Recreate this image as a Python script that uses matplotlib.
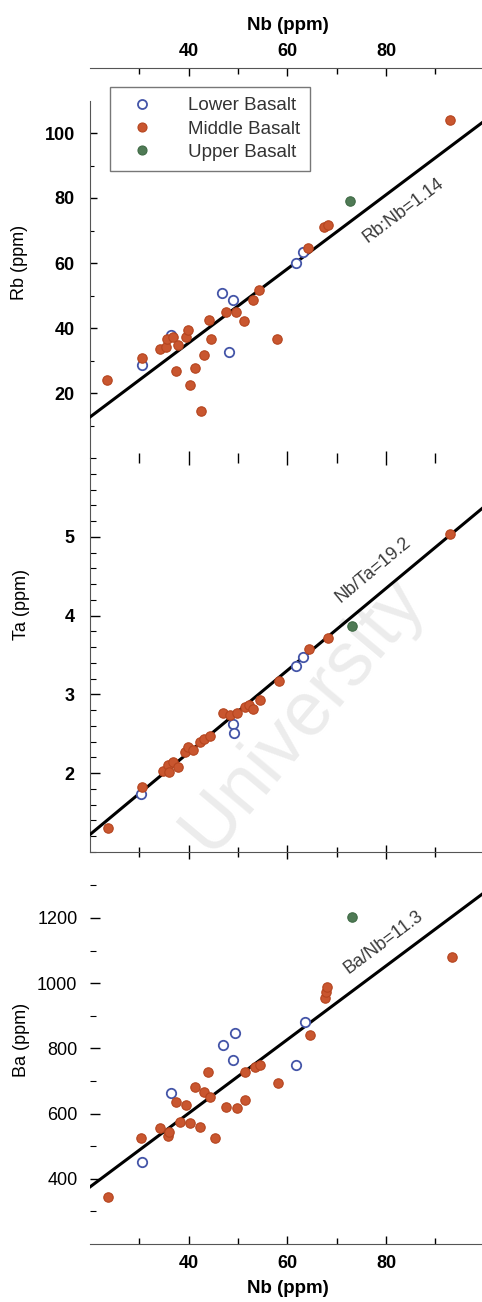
import matplotlib
matplotlib.use("Agg")
import matplotlib.pyplot as plt
from matplotlib.lines import Line2D
from matplotlib.ticker import FixedLocator, MultipleLocator
import numpy as np

plt.rcParams["font.family"] = ["Liberation Sans", "DejaVu Sans"]

# ---- Rb vs Nb ----
rb_nb_lower = [30.5, 36.5, 46.8, 49.0, 48.2, 61.8, 63.2]
rb_lower = [28.6, 37.8, 50.7, 48.7, 32.7, 59.9, 63.5]
rb_nb_middle = [23.5, 30.6, 34.1, 35.5, 35.6, 36.8, 37.8, 39.5, 39.9, 37.5, 40.3,
                41.3, 43.1, 42.5, 44.2, 44.6, 47.6, 49.5, 51.3, 53.0, 54.2, 57.9,
                64.2, 67.4, 68.2, 93.0]
rb_middle = [24.0, 30.8, 33.5, 34.3, 36.5, 37.3, 34.8, 37.3, 39.4, 26.8, 22.5,
             27.6, 31.7, 14.4, 42.5, 36.7, 44.8, 44.8, 42.1, 48.6, 51.7, 36.5,
             64.5, 71.2, 71.8, 104.0]
rb_nb_upper = [72.7]
rb_upper = [79.0]

# ---- Ta vs Nb ----
ta_nb_lower = [30.4, 49.0, 49.2, 61.8, 63.2]
ta_lower = [1.73, 2.63, 2.51, 3.36, 3.47]
ta_nb_middle = [23.6, 30.6, 34.8, 35.8, 36.1, 36.8, 37.8, 39.2, 39.9, 40.9, 42.2,
                43.2, 44.3, 47.0, 48.3, 49.7, 51.4, 52.3, 53.0, 54.4, 58.3, 64.3,
                68.2, 93.0]
ta_middle = [1.30, 1.82, 2.03, 2.10, 2.02, 2.14, 2.08, 2.27, 2.33, 2.29, 2.40,
             2.44, 2.47, 2.76, 2.74, 2.76, 2.84, 2.87, 2.82, 2.93, 3.17, 3.57,
             3.71, 5.03]
ta_nb_upper = [73.0]
ta_upper = [3.87]

# ---- Ba vs Nb ----
ba_nb_lower = [30.5, 36.5, 47.0, 49.3, 49.0, 61.8, 63.5]
ba_lower = [450, 662, 810, 848, 765, 749, 882]
ba_nb_middle = [23.6, 30.4, 34.1, 35.8, 36.0, 37.5, 39.5, 38.2, 40.2, 42.2, 41.2,
                43.2, 44.3, 44.0, 45.3, 47.6, 49.7, 51.4, 51.4, 53.4, 54.4, 58.1,
                64.5, 67.6, 67.8, 68.1, 93.3]
ba_middle = [345, 524, 555, 530, 545, 637, 626, 575, 570, 560, 682,
             667, 652, 728, 524, 621, 616, 642, 728, 744, 750, 695,
             841, 955, 972, 988, 1079]
ba_nb_upper = [73.0]
ba_upper = [1204]

# reference ratio lines: slope from the ratio, offset of each fitted line
rb_ratio, rb_offset = 1.14, -10.2
ta_ratio, ta_offset = 19.2, 0.18
ba_ratio, ba_offset = 11.3, 149.0

group_labels = ["Lower Basalt", "Middle Basalt", "Upper Basalt"]

C_LOW = "#4455a8"
C_MID = "#c9562f"
C_UP = "#4f7a55"

W, H = 482, 1302
fig = plt.figure(figsize=(W / 100, H / 100), dpi=100)


def px_axes(left, top, right, bottom):
    return fig.add_axes([left / W, 1 - bottom / H, (right - left) / W, (bottom - top) / H])


def scatter_groups(ax, nl, yl, nm, ym, nu, yu):
    ax.scatter(nl, yl, s=46, facecolor="white", edgecolor=C_LOW, linewidth=1.3, zorder=4)
    ax.scatter(nm, ym, s=46, facecolor=C_MID, edgecolor="#b5451f", linewidth=0.8, zorder=5)
    ax.scatter(nu, yu, s=46, facecolor=C_UP, edgecolor="#3f6a45", linewidth=0.8, zorder=5)


def ratio_line(ax, slope, offset, label, lx, ly):
    xs = np.array([20.0, 100.0])
    ax.plot(xs, slope * xs + offset, color="black", lw=2.2, zorder=3)
    p = ax.transData.transform_point
    a = np.array(p((20, slope * 20 + offset)))
    b = np.array(p((100, slope * 100 + offset)))
    ang = np.degrees(np.arctan2(b[1] - a[1], b[0] - a[0]))
    ax.text(lx, ly, label, rotation=ang, rotation_mode="anchor", ha="center",
            va="center", fontsize=13, color="#3a3a3a", zorder=6)


# watermark behind the panels
fig.text(210 / W, 1 - 856 / H, "University", rotation=50, rotation_mode="anchor",
         ha="left", va="baseline", fontsize=55, color="#ececec", zorder=-5)

# ---------- Rb panel ----------
ax1 = px_axes(90, 100.5, 484.8, 458)
ax1.set_facecolor("none")
ax1.set_xlim(20, 100)
ax1.set_ylim(0, 110)
for s in ("right", "bottom"):
    ax1.spines[s].set_visible(False)
ax1.spines["top"].set_position(("outward", 23.4))
ax1.xaxis.tick_top()
ax1.xaxis.set_label_position("top")
ax1.xaxis.set_major_locator(FixedLocator([40, 60, 80]))
ax1.xaxis.set_minor_locator(FixedLocator([30, 50, 70, 90]))
ax1.tick_params(axis="x", which="major", direction="in", length=6, width=1, pad=6,
                labelsize=13)
ax1.tick_params(axis="x", which="minor", direction="in", length=4, width=1)
ax1.yaxis.set_major_locator(FixedLocator([20, 40, 60, 80, 100]))
ax1.yaxis.set_minor_locator(FixedLocator([10, 30, 50, 70, 90]))
ax1.tick_params(axis="y", which="major", direction="in", length=5, width=1, pad=11,
                labelsize=13)
ax1.tick_params(axis="y", which="minor", direction="in", length=3, width=0.8)
for t in ax1.get_xticklabels() + ax1.get_yticklabels():
    t.set_fontweight("bold")
ax1.set_xlabel("Nb (ppm)", fontsize=13.5, fontweight="bold", labelpad=9)
for s in ax1.spines.values():
    s.set_color("#555555")
scatter_groups(ax1, rb_nb_lower, rb_lower, rb_nb_middle, rb_middle, rb_nb_upper, rb_upper)
ratio_line(ax1, rb_ratio, rb_offset, "Rb:Nb=1.14", 83.4, 76.3)

handles = [
    Line2D([], [], ls="none", marker="o", ms=6.5, mfc="white", mec=C_LOW, mew=1.3),
    Line2D([], [], ls="none", marker="o", ms=6.5, mfc=C_MID, mec="#b5451f", mew=0.8),
    Line2D([], [], ls="none", marker="o", ms=6.5, mfc=C_UP, mec="#3f6a45", mew=0.8),
]
leg = ax1.legend(handles, group_labels, loc="upper left",
                 bbox_to_anchor=(110 / W, 1 - 87 / H), bbox_transform=fig.transFigure,
                 borderaxespad=0, frameon=True, fancybox=False, fontsize=13.5,
                 handlelength=2.3, handletextpad=1.3, borderpad=0.55, labelspacing=0.32)
leg.get_frame().set_edgecolor("#555555")
leg.get_frame().set_linewidth(1.0)
for t in leg.get_texts():
    t.set_color("#333333")

# ---------- Ta panel ----------
ax2 = px_axes(90, 458, 484.8, 852)
ax2.set_facecolor("none")
ax2.set_xlim(20, 100)
ax2.set_ylim(1, 6.0)
for s in ("right", "top"):
    ax2.spines[s].set_visible(False)
ax2.xaxis.set_major_locator(FixedLocator([40, 60, 80]))
ax2.xaxis.set_minor_locator(FixedLocator([30, 50, 70, 90]))
ax2.tick_params(axis="x", which="both", top=True, bottom=True, labelbottom=False,
                direction="inout")
ax2.tick_params(axis="x", which="major", length=10, width=1)
ax2.tick_params(axis="x", which="minor", length=7, width=1)
ax2.yaxis.set_major_locator(FixedLocator([2, 3, 4, 5]))
ax2.yaxis.set_minor_locator(MultipleLocator(0.2))
ax2.tick_params(axis="y", which="major", direction="in", length=7, width=1, pad=11,
                labelsize=13)
ax2.tick_params(axis="y", which="minor", direction="in", length=4, width=0.8)
for t in ax2.get_yticklabels():
    t.set_fontweight("bold")
for s in ax2.spines.values():
    s.set_color("#555555")
scatter_groups(ax2, ta_nb_lower, ta_lower, ta_nb_middle, ta_middle, ta_nb_upper, ta_upper)
ratio_line(ax2, 1.0 / ta_ratio, ta_offset, "Nb/Ta=19.2", 77.3, 4.58)

# ---------- Ba panel ----------
ax3 = px_axes(90, 869, 484.8, 1244)
ax3.set_facecolor("none")
ax3.set_xlim(20, 100)
ax3.set_ylim(200, 1350)
for s in ("right", "top", "left"):
    ax3.spines[s].set_visible(False)
ax3.xaxis.set_major_locator(FixedLocator([40, 60, 80]))
ax3.xaxis.set_minor_locator(FixedLocator([30, 50, 70, 90]))
ax3.tick_params(axis="x", which="major", direction="in", length=6, width=1, pad=8,
                labelsize=13)
ax3.tick_params(axis="x", which="minor", direction="in", length=4, width=1)
ax3.yaxis.set_major_locator(FixedLocator([400, 600, 800, 1000, 1200]))
ax3.yaxis.set_minor_locator(FixedLocator([300, 500, 700, 900, 1100, 1300]))
ax3.tick_params(axis="y", which="major", direction="in", length=7, width=1, pad=9,
                labelsize=13)
ax3.tick_params(axis="y", which="minor", direction="in", length=4, width=0.8)
for t in ax3.get_xticklabels():
    t.set_fontweight("bold")
ax3.set_xlabel("Nb (ppm)", fontsize=13.5, fontweight="bold", labelpad=6)
for s in ax3.spines.values():
    s.set_color("#555555")
scatter_groups(ax3, ba_nb_lower, ba_lower, ba_nb_middle, ba_middle, ba_nb_upper, ba_upper)
ratio_line(ax3, ba_ratio, ba_offset, "Ba/Nb=11.3", 79.4, 1126)

# y-axis titles
fig.text(20 / W, 1 - 262 / H, "Rb (ppm)", rotation=90, ha="center", va="center", fontsize=13)
fig.text(22 / W, 1 - 605 / H, "Ta (ppm)", rotation=90, ha="center", va="center", fontsize=13)
fig.text(22 / W, 1 - 1040 / H, "Ba (ppm)", rotation=90, ha="center", va="center", fontsize=13)

fig.savefig("out.png", dpi=100)
